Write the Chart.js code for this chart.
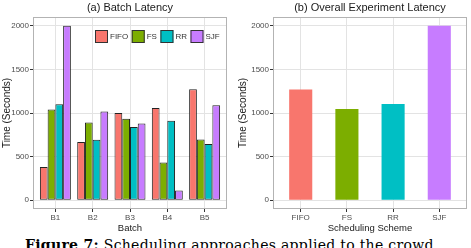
<!DOCTYPE html>
<html>
<head>
<meta charset="utf-8">
<script src="https://cdn.jsdelivr.net/npm/chart.js@4"></script>
<style>
  body { margin: 0; width: 471px; height: 248px; overflow: hidden; background: #fff; position: relative; }
  #batch { position: absolute; left: 0; top: 0; }
  #overall { position: absolute; left: 236px; top: 0; }
  #caption { position: absolute; left: 25px; top: 238px; font-family: "DejaVu Serif", serif; font-size: 14px; line-height: 14px; letter-spacing: 0.3px; white-space: nowrap; color: #000; }
</style>
</head>
<body>
<canvas id="batch" width="236" height="234"></canvas>
<canvas id="overall" width="235" height="234"></canvas>
<div id="caption"><b>Figure 7:</b> Scheduling approaches applied to the crowd</div>
<script>
const batches = ['B1', 'B2', 'B3', 'B4', 'B5'];
const schemes = ['FIFO', 'FS', 'RR', 'SJF'];

// batch latency, seconds
const fifo = [382, 667, 999, 1056, 1273];
const fs = [1040, 891, 934, 434, 697];
const rr = [1100, 694, 839, 911, 644];
const sjf = [2000, 1017, 880, 111, 1090];

// overall experiment latency, seconds
const overall = [1270, 1045, 1102, 2000];

const yTicks = [0, 500, 1000, 1500, 2000];
const colors = ['#F8766D', '#7CAE00', '#00BFC4', '#C77CFF'];

Chart.defaults.font.family = '"Liberation Sans", Arial, sans-serif';
Chart.defaults.color = '#4d4d4d';
Chart.defaults.animation = false;

// ggplot style box round the panel
const panelBorder = {
  id: 'panelBorder',
  afterDraw(chart) {
    const a = chart.chartArea;
    const ctx = chart.ctx;
    ctx.save();
    ctx.strokeStyle = '#b3b3b3';
    ctx.lineWidth = 1;
    ctx.strokeRect(Math.round(a.left) + 0.5, Math.round(a.top) + 0.5, Math.round(a.right - a.left) - 1, Math.round(a.bottom - a.top) - 1);
    ctx.restore();
  }
};

// legend sits inside the panel, top right
const insideLegend = {
  id: 'insideLegend',
  afterDraw(chart) {
    const a = chart.chartArea;
    const ctx = chart.ctx;
    let x = a.left + 62;
    const y = a.top + 13;
    ctx.save();
    ctx.font = '8px "Liberation Sans", Arial, sans-serif';
    ctx.textBaseline = 'middle';
    chart.data.datasets.forEach(ds => {
      ctx.fillStyle = ds.backgroundColor;
      ctx.fillRect(x, y, 13, 13);
      ctx.strokeStyle = '#333';
      ctx.lineWidth = 1;
      ctx.strokeRect(x + 0.5, y + 0.5, 12, 12);
      ctx.fillStyle = '#333';
      ctx.fillText(ds.label, x + 15, y + 7);
      x += 15 + ctx.measureText(ds.label).width + 3.5;
    });
    ctx.restore();
  }
};

function yAxis(width) {
  return {
    min: -100,
    max: 2100,
    bounds: 'data',
    afterBuildTicks: axis => { axis.ticks = yTicks.map(v => ({ value: v })); },
    afterFit: axis => { axis.width = width; },
    grid: { color: '#e3e3e3', tickColor: '#333', tickLength: 3 },
    border: { display: false },
    ticks: { font: { size: 8 }, padding: 1, color: '#4d4d4d', callback: v => String(v) },
    title: { display: true, text: 'Time (Seconds)', font: { size: 10 }, color: '#1a1a1a', padding: { top: 1, bottom: 0 } }
  };
}

function xAxis(labels, title) {
  return {
    type: 'linear',
    min: 0.4,
    max: labels.length + 0.6,
    bounds: 'data',
    offset: false,
    afterBuildTicks: axis => { axis.ticks = labels.map((l, i) => ({ value: i + 1 })); },
    afterFit: axis => { axis.height = 25; },
    grid: { color: '#e3e3e3', tickColor: '#333', tickLength: 3, offset: false },
    border: { display: false },
    ticks: { font: { size: 8 }, padding: 1, color: '#4d4d4d', maxRotation: 0, callback: v => labels[v - 1] },
    title: { display: true, text: title, font: { size: 9.5 }, color: '#1a1a1a', padding: { top: 0, bottom: 0 } }
  };
}

const batchSeries = [fifo, fs, rr, sjf];

new Chart(document.getElementById('batch'), {
  type: 'bar',
  data: {
    datasets: schemes.map((s, k) => ({
      label: s,
      data: batchSeries[k].map((v, i) => ({ x: i + 1, y: v })),
      backgroundColor: colors[k],
      borderColor: '#222',
      borderWidth: 1,
      borderSkipped: false
    }))
  },
  options: {
    responsive: false,
    layout: { padding: { left: 0, right: 9, top: 0, bottom: 0 } },
    datasets: { bar: { categoryPercentage: 0.83, barPercentage: 1 } },
    plugins: {
      legend: { display: false },
      tooltip: { enabled: false },
      title: { display: true, fullSize: false, text: '(a) Batch Latency', color: '#1a1a1a', font: { size: 11, weight: 'normal' }, padding: { top: 1.5, bottom: 2.3 } }
    },
    scales: { x: xAxis(batches, 'Batch'), y: yAxis(33) }
  },
  plugins: [panelBorder, insideLegend]
});

new Chart(document.getElementById('overall'), {
  type: 'bar',
  data: {
    datasets: [{
      label: 'Overall',
      data: overall.map((v, i) => ({ x: i + 1, y: v })),
      backgroundColor: colors,
      borderWidth: 0
    }]
  },
  options: {
    responsive: false,
    layout: { padding: { left: 0, right: 4, top: 0, bottom: 0 } },
    datasets: { bar: { categoryPercentage: 0.5, barPercentage: 1 } },
    plugins: {
      legend: { display: false },
      tooltip: { enabled: false },
      title: { display: true, fullSize: false, text: '(b) Overall Experiment Latency', color: '#1a1a1a', font: { size: 11, weight: 'normal' }, padding: { top: 1.5, bottom: 2.3 } }
    },
    scales: { x: xAxis(schemes, 'Scheduling Scheme'), y: yAxis(37) }
  },
  plugins: [panelBorder]
});
</script>
</body>
</html>
